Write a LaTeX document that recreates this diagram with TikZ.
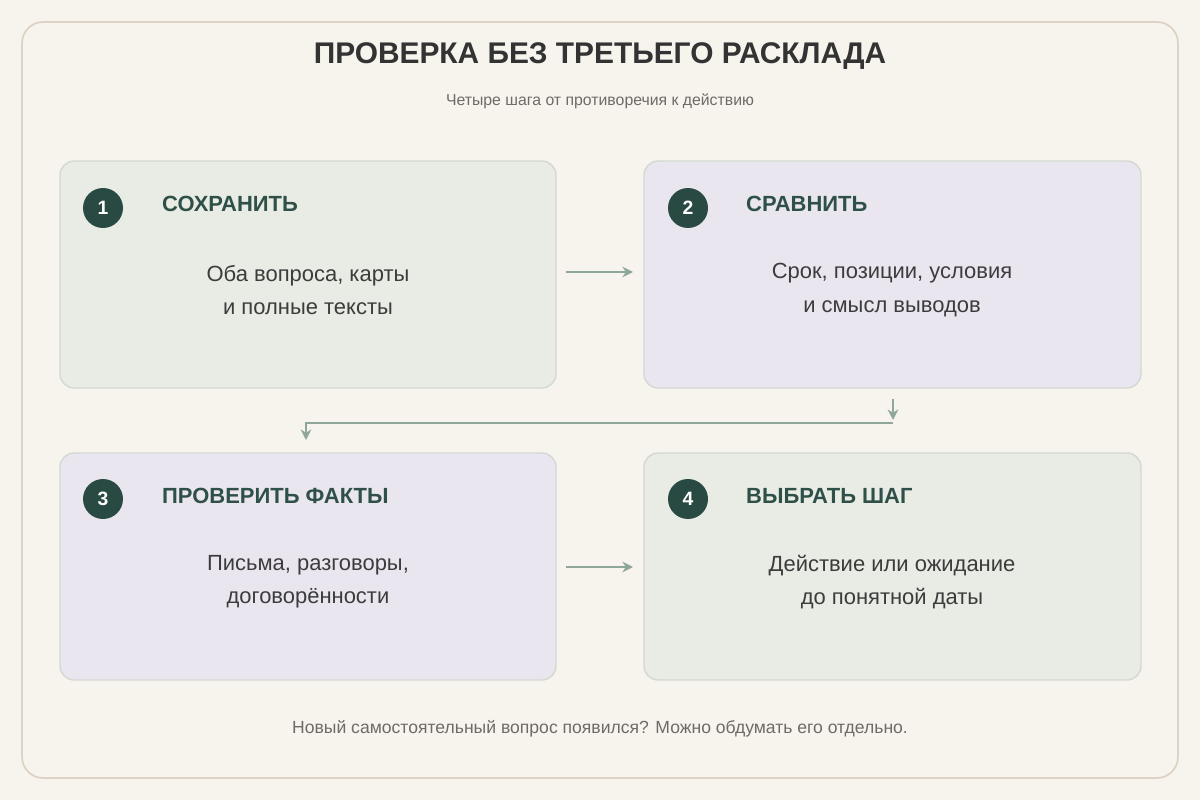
\documentclass[tikz,border=0pt]{standalone}
\usepackage{fontspec}
\setmainfont{Liberation Sans}
\usetikzlibrary{arrows.meta}
\definecolor{bg}{HTML}{F7F4EE}
\definecolor{frame}{HTML}{DDD3C4}
\definecolor{gfill}{HTML}{E8ECE4}
\definecolor{lfill}{HTML}{EAE6F0}
\definecolor{bstroke}{HTML}{D4D8D2}
\definecolor{dark}{HTML}{284A42}
\definecolor{head}{HTML}{2E5048}
\definecolor{arr}{HTML}{8EA798}
\definecolor{txt}{HTML}{3C3C3C}
\definecolor{sub}{HTML}{6E6A66}
\begin{document}
\begin{tikzpicture}[x=0.02cm,y=-0.02cm,
 box/.style={draw=bstroke,line width=0.8pt,rounded corners=8pt},
 num/.style={circle,fill=dark,minimum size=0.8cm,inner sep=0,text=white,font=\fontsize{11}{13}\selectfont\bfseries},
 hd/.style={anchor=west,text=head,font=\fontsize{12.5}{15}\selectfont\bfseries},
 body/.style={align=center,text=txt,font=\fontsize{12.5}{19}\selectfont},
 ar/.style={draw=arr,line width=1.3pt,-{Stealth[length=6pt,width=6pt]}}]
\useasboundingbox (0,0) rectangle (1200,800);
\fill[bg] (0,0) rectangle (1200,800);
\draw[frame,line width=1pt,rounded corners=12pt,fill=bg] (22,22) rectangle (1178,778);
\node[text=txt!85!black,font=\fontsize{17}{20}\selectfont\bfseries] (title) at (600,56) {ПРОВЕРКА БЕЗ ТРЕТЬЕГО РАСКЛАДА};
\node[text=sub,font=\fontsize{9}{11}\selectfont] (subt) at (600,101) {Четыре шага от противоречия к действию};
\draw[box,fill=gfill] (60,161) rectangle (556,388);
\draw[box,fill=lfill] (644,161) rectangle (1141,388);
\draw[box,fill=lfill] (60,453) rectangle (556,680);
\draw[box,fill=gfill] (644,453) rectangle (1141,680);
\node[num] (n1) at (103,208) {1};
\node[num] (n2) at (688,208) {2};
\node[num] (n3) at (103,499) {3};
\node[num] (n4) at (688,499) {4};
\node[hd] (h1) at (156,204) {СОХРАНИТЬ};
\node[hd] (h2) at (740,204) {СРАВНИТЬ};
\node[hd] (h3) at (156,496) {ПРОВЕРИТЬ ФАКТЫ};
\node[hd] (h4) at (740,496) {ВЫБРАТЬ ШАГ};
\node[body] (b1) at (308,290) {Оба вопроса, карты\\и полные тексты};
\node[body] (b2) at (892,290) {Срок, позиции, условия\\и смысл выводов};
\node[body] (b3) at (308,582) {Письма, разговоры,\\договорённости};
\node[body] (b4) at (892,582) {Действие или ожидание\\до понятной даты};
\coordinate (a1s) at (566,272); \coordinate (a1e) at (633,272);
\coordinate (a3s) at (566,567); \coordinate (a3e) at (633,567);
\coordinate (d1) at (893,399); \coordinate (d2) at (893,420);
\coordinate (c1) at (893,423); \coordinate (c2) at (306,423); \coordinate (c3) at (306,440);
\draw[ar] (a1s) -- (a1e);
\draw[ar] (a3s) -- (a3e);
\draw[ar] (d1) -- (d2);
\draw[ar] (c1) -- (c2) -- (c3);
\node[text=sub,font=\fontsize{10}{12}\selectfont] (foot) at (600,729) {Новый самостоятельный вопрос появился? Можно обдумать его отдельно.};
\end{tikzpicture}
\end{document}
